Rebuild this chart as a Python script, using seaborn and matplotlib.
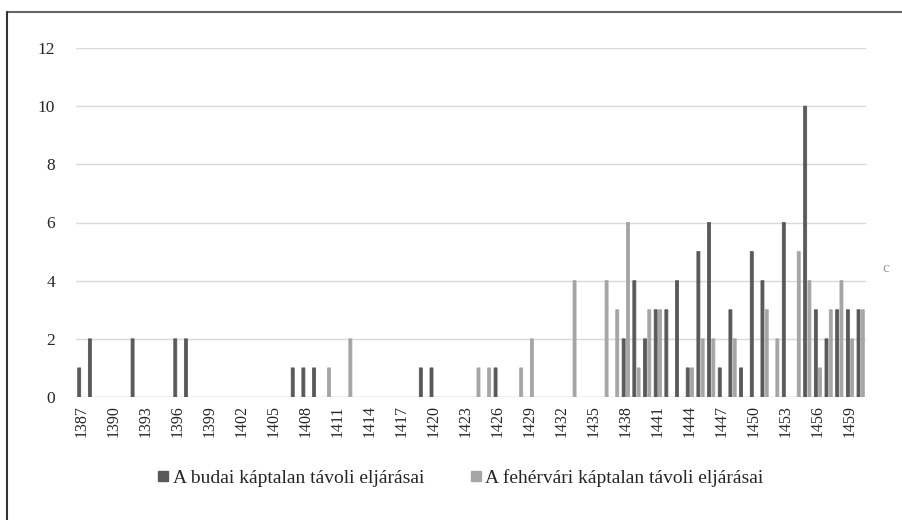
import pandas as pd
import matplotlib.pyplot as plt
import seaborn as sns
from matplotlib.lines import Line2D

# yearly counts, 1387..1460
years = list(range(1387, 1461))

budai = [1, 2, 0, 0, 0, 2, 0, 0, 0, 2, 2,            # 1387-1397
         0, 0, 0, 0, 0, 0, 0, 0, 0,                  # 1398-1406
         1, 1, 1,                                    # 1407-1409
         0, 0, 0, 0, 0, 0, 0, 0, 0,                  # 1410-1418
         1, 1,                                       # 1419-1420
         0, 0, 0, 0, 0,                              # 1421-1425
         1,                                          # 1426
         0, 0, 0, 0, 0, 0, 0, 0, 0, 0, 0,            # 1427-1437
         2, 4, 2, 3, 3, 4, 1, 5, 6, 1, 3, 1,         # 1438-1449
         5, 4, 0, 6, 0, 10, 3, 2, 3, 3, 3]           # 1450-1460

fehervari = [0] * 23 + [                             # 1387-1409
             1, 0, 2,                                # 1410-1412
             0, 0, 0, 0, 0, 0, 0, 0, 0, 0, 0,        # 1413-1423
             1, 1, 0, 0, 1, 2, 0, 0, 0, 4, 0, 0,     # 1424-1435
             4, 3, 6, 1, 3, 3, 0, 0, 1, 2, 2, 0,     # 1436-1447
             2, 0, 0, 3, 2, 0, 5, 4, 1, 3, 4, 2, 3]  # 1448-1460

series_names = ['A budai káptalan távoli eljárásai',
                'A fehérvári káptalan távoli eljárásai']
colors = ['#595959', '#a5a5a5']

df = pd.DataFrame({
    'year': [str(y) for y in years] * 2,
    'count': budai + fehervari,
    'series': [series_names[0]] * len(years) + [series_names[1]] * len(years),
})

sns.set_theme(style="white")
plt.rcParams['font.family'] = ['Liberation Serif', 'DejaVu Serif']

fig = plt.figure(figsize=(9.02, 5.2), dpi=100)
ax = fig.add_axes([76 / 902, 1 - 397 / 520, (866 - 76) / 902, (397 - 48) / 520])

sns.barplot(data=df, x='year', y='count', hue='series',
            palette=colors, width=0.8, gap=0.3, ax=ax,
            saturation=1, legend=False)

# even out bar widths (no pixel snapping, thin edge in the bar colour)
for p in ax.patches:
    p.set_snap(False)
    if p.get_height() > 0:
        p.set_edgecolor(p.get_facecolor())
        p.set_linewidth(0.6)
    else:
        p.set_linewidth(0)

ax.set_ylim(0, 12)
ax.set_xlim(-0.5, len(years) - 0.5)
ax.set_yticks(range(0, 13, 2))
ax.yaxis.grid(True, color='#d9d9d9', linewidth=1)
ax.set_axisbelow(True)
for s in ax.spines.values():
    s.set_visible(False)
ax.axhline(0, color='#d9d9d9', linewidth=1, zorder=0)

ticks = list(range(0, len(years), 3))
ax.set_xticks(ticks)
ax.set_xticklabels([years[i] for i in ticks], rotation=90, fontsize=11.5)
ax.tick_params(axis='y', labelsize=12.5, pad=15, length=0)
ax.tick_params(axis='x', pad=6, length=0)
ax.set_xlabel('')
ax.set_ylabel('')

handles = [Line2D([], [], marker='s', linestyle='', markersize=7, color=c) for c in colors]
fig.legend(handles, series_names, loc='center', bbox_to_anchor=(0.51, 0.081),
           ncol=2, frameon=False, fontsize=14, handletextpad=0.15,
           columnspacing=2.3, handlelength=0.7)

# frame lines of the original figure
fig.add_artist(Line2D([7.5 / 902, 1], [1 - 11.5 / 520] * 2, color='#666666', linewidth=1.5))
fig.add_artist(Line2D([7.5 / 902] * 2, [0, 1 - 11.5 / 520], color='#333333', linewidth=1.5))
fig.text(886 / 902, 1 - 268 / 520, 'c', color='#999999', fontsize=11, ha='center', va='center')

plt.savefig('out.png', dpi=100)
